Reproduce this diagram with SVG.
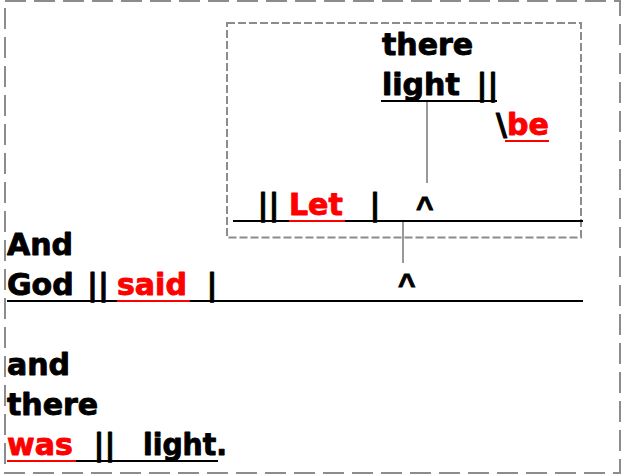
<svg xmlns="http://www.w3.org/2000/svg" width="621" height="474" viewBox="0 0 621 474">
  <style>
    .w { font-family: "DejaVu Sans", "Verdana", sans-serif; font-weight: bold; font-size: 30px; fill: #000; stroke: #000; stroke-width: 0.9; stroke-linejoin: round; }
    .red { fill: #ff0000; stroke: #ff0000; }
    .caret { font-family: "Liberation Sans", Arial, sans-serif; font-weight: bold; font-size: 30px; fill: #000; stroke: #000; stroke-width: 0.9; }
    .base { stroke: #000; stroke-width: 2; fill: none; }
    .ul-red { stroke: #ff0000; stroke-width: 2; fill: none; }
    .link { stroke: #555; stroke-width: 1.2; fill: none; }
    .frame { fill: none; stroke: #8c8c8c; stroke-width: 2; stroke-dasharray: 21 8; }
    .clause { fill: none; stroke: #8c8c8c; stroke-width: 2; stroke-dasharray: 8 3; }
  </style>
  <rect width="621" height="474" fill="#fff"/>

  <!-- outer sentence frame -->
  <rect class="frame" x="5" y="1" width="615" height="472"/>

  <!-- embedded clause frame -->
  <rect class="clause" x="227" y="23" width="354" height="214.5"/>

  <g id="connectors">
    <line class="link" x1="427" y1="102" x2="427" y2="183"/>
    <line class="link" x1="403" y1="222" x2="403" y2="263"/>
  </g>

  <!-- inner clause: there light || \be -->
  <g id="there-light">
    <line class="base" x1="381" y1="101" x2="497" y2="101"/>
    <text class="w" x="382" y="55">there</text>
    <text class="w" x="382" y="95">light</text>
    <text class="w" x="476.5" y="95">||</text>
  </g>
  <g id="be">
    <line class="ul-red" x1="505" y1="141" x2="549" y2="141"/>
    <text class="w" x="496" y="135">\<tspan class="red">be</tspan></text>
  </g>

  <!-- Let clause -->
  <g id="let">
    <line class="base" x1="233" y1="221" x2="583" y2="221"/>
    <line class="ul-red" x1="289" y1="221" x2="345" y2="221"/>
    <text class="w" x="257.5" y="215">||</text>
    <text class="w red" x="289" y="215">Let</text>
    <text class="w" x="369.5" y="215">|</text>
    <text class="caret" x="416" y="216.5">^</text>
  </g>

  <!-- main clause: And God || said | -->
  <g id="god-said">
    <line class="base" x1="7" y1="301" x2="583" y2="301"/>
    <line class="ul-red" x1="117" y1="301" x2="190" y2="301"/>
    <text class="w" x="7" y="255">And</text>
    <text class="w" x="7" y="295">God</text>
    <text class="w" x="87" y="295">||</text>
    <text class="w red" x="117" y="295">said</text>
    <text class="w" x="206.5" y="295">|</text>
    <text class="caret" x="398" y="293.5">^</text>
  </g>

  <!-- second clause: and there was || light. -->
  <g id="was-light">
    <line class="base" x1="7" y1="461" x2="218" y2="461"/>
    <line class="ul-red" x1="7" y1="461" x2="76" y2="461"/>
    <text class="w" x="7" y="375">and</text>
    <text class="w" x="7" y="415">there</text>
    <text class="w red" x="7" y="455">was</text>
    <text class="w" x="93.5" y="455">||</text>
    <text class="w" x="143" y="455" textLength="84" lengthAdjust="spacingAndGlyphs">light.</text>
  </g>
</svg>
